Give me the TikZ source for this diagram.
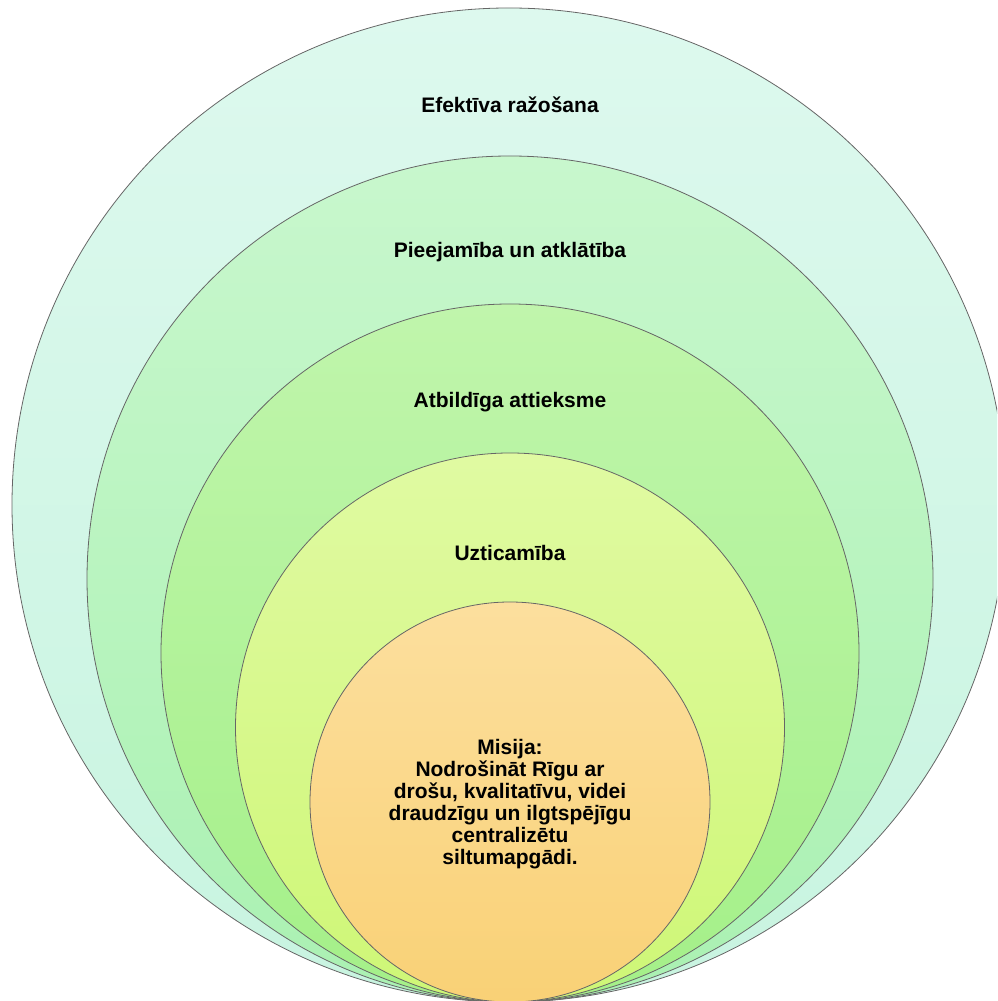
\documentclass[tikz,border=0pt]{standalone}
\usepackage{fontspec}
\setmainfont{Liberation Sans}
\usepackage{xcolor}

\definecolor{ringAtop}{RGB}{221,249,238}
\definecolor{ringAbot}{RGB}{200,244,224}
\definecolor{ringBtop}{RGB}{200,247,205}
\definecolor{ringBbot}{RGB}{170,241,178}
\definecolor{ringCtop}{RGB}{192,245,172}
\definecolor{ringCbot}{RGB}{164,240,136}
\definecolor{ringDtop}{RGB}{224,250,162}
\definecolor{ringDbot}{RGB}{206,247,118}
\definecolor{ringEtop}{RGB}{252,223,158}
\definecolor{ringEbot}{RGB}{249,209,118}

\tikzset{
  ring/.style={draw=black!60, line width=0.8pt},
  ringlabel/.style={font=\bfseries\fontsize{21}{22}\selectfont, align=center, inner sep=0pt}
}

\begin{document}
\begin{tikzpicture}[x=1pt, y=1pt]
  \useasboundingbox (0,0) rectangle (997,1001);
  \clip (0,0) rectangle (997,1001);

  % nested circles, all touching at the bottom
  \draw[ring, top color=ringAtop, bottom color=ringAbot] (509,496) circle (497);
  \draw[ring, top color=ringBtop, bottom color=ringBbot] (510,422) circle (423);
  \draw[ring, top color=ringCtop, bottom color=ringCbot] (510,348) circle (349);
  \draw[ring, top color=ringDtop, bottom color=ringDbot] (510,273.5) circle (274.5);
  \draw[ring, top color=ringEtop, bottom color=ringEbot] (510,199) circle (200);

  % labels
  \node[ringlabel] (efekt)  at (510,896) {Efektīva ražošana};
  \node[ringlabel] (pieej)  at (510,749) {Pieejamība un atklātība};
  \node[ringlabel] (atbild) at (510,599) {Atbildīga attieksme};
  \node[ringlabel] (uztic)  at (510,448) {Uzticamība};
  \node[ringlabel] (misija) at (510,197) {Misija:\\Nodrošināt Rīgu ar\\drošu, kvalitatīvu, videi\\draudzīgu un ilgtspējīgu\\centralizētu\\siltumapgādi.};
\end{tikzpicture}
\end{document}
